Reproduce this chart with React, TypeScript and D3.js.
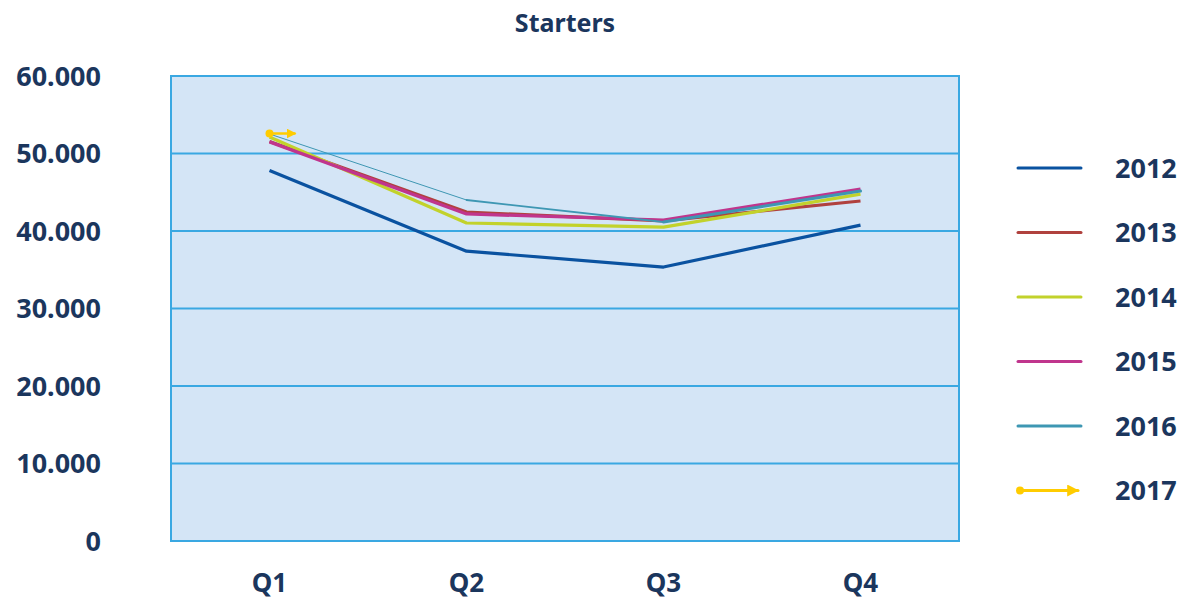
import * as d3 from "d3";

const quarters = ["Q1", "Q2", "Q3", "Q4"];
const years = ["2012", "2013", "2014", "2015", "2016", "2017"];

const v2012 = [47800, 37400, 35350, 40750];
const v2013 = [51550, 42450, 41300, 43870];
const v2014 = [52130, 41030, 40500, 44750];
const v2015 = [51500, 42200, 41420, 45420];
const v2016 = [52520, 44000, 41160, 45160];
const v2017 = [52580];

const yTicks = [0, 10000, 20000, 30000, 40000, 50000, 60000];

const seriesValues = [v2012, v2013, v2014, v2015, v2016, v2017];
const colors = ["#0a52a0", "#b0413e", "#c2d22b", "#c0358d", "#3e97b3", "#ffcc00"];
// 2016 fades in thin from Q1 and thickens toward Q4
const tealWidths = [1, 1.8, 3];

const NAVY = "#1b365d";
const FONT = "'Noto Sans', 'Open Sans', sans-serif";

export default function App() {
  const width = 1186;
  const height = 599;
  const plot = { left: 171, right: 959, top: 76, bottom: 541 };

  const x = d3.scaleBand().domain(quarters).range([plot.left, plot.right]).padding(0);
  const cx = (q: string) => (x(q) as number) + x.bandwidth() / 2;
  const y = d3.scaleLinear().domain([0, 60000]).range([plot.bottom, plot.top]);

  const line = d3
    .line<number>()
    .x((_, i) => cx(quarters[i]))
    .y((d) => y(d));

  const fmt = (v: number) => (v === 0 ? "0" : d3.format(",")(v).replace(/,/g, "."));

  const legendY = d3.scalePoint().domain(years).range([168, 490.5]);

  return (
    <div style={{ position: "absolute", left: 0, top: 0 }}>
      <svg width={width} height={height} style={{ display: "block", fontFamily: FONT }}>
        <defs>
          <marker id="arrow" viewBox="0 0 10 10" refX="9" refY="5" markerWidth="4" markerHeight="4" orient="auto">
            <path d="M0,0 L10,5 L0,10 z" fill={colors[5]} />
          </marker>
        </defs>
        <text x={565} y={32} textAnchor="middle" fontSize={25} fontWeight={700} fill={NAVY}>
          Starters
        </text>

        <rect
          x={plot.left}
          y={plot.top}
          width={plot.right - plot.left}
          height={plot.bottom - plot.top}
          fill="#d4e5f6"
          stroke="#3aa8e2"
          strokeWidth={2}
        />
        {yTicks.map((t) => (
          <g key={t}>
            <line x1={plot.left} x2={plot.right} y1={y(t)} y2={y(t)} stroke="#3aa8e2" strokeWidth={2} />
            <text x={101} y={y(t)} dy="0.36em" textAnchor="end" fontSize={27} fontWeight={700} fill={NAVY}>
              {fmt(t)}
            </text>
          </g>
        ))}
        {quarters.map((q) => (
          <text key={q} x={cx(q)} y={592} textAnchor="middle" fontSize={26} fontWeight={700} fill={NAVY}>
            {q}
          </text>
        ))}

        {seriesValues.slice(0, 4).map((vals, i) => (
          <path key={years[i]} d={line(vals) || ""} fill="none" stroke={colors[i]} strokeWidth={3.2} strokeLinejoin="round" />
        ))}
        {v2016.slice(1).map((v, i) => (
          <line
            key={"t" + i}
            x1={cx(quarters[i])}
            y1={y(v2016[i])}
            x2={cx(quarters[i + 1])}
            y2={y(v)}
            stroke={colors[4]}
            strokeWidth={tealWidths[i]}
            strokeLinecap="round"
          />
        ))}
        {v2017.map((v, i) => (
          <g key={"s" + i}>
            <line
              x1={cx(quarters[i])}
              y1={y(v)}
              x2={cx(quarters[i]) + 26}
              y2={y(v)}
              stroke={colors[5]}
              strokeWidth={2.5}
              markerEnd="url(#arrow)"
            />
            <circle cx={cx(quarters[i])} cy={y(v)} r={4} fill={colors[5]} />
          </g>
        ))}

        {years.map((yr, i) => {
          const ly = legendY(yr) as number;
          return (
            <g key={yr}>
              <line
                x1={1018}
                x2={yr === "2017" ? 1078 : 1081}
                y1={ly}
                y2={ly}
                stroke={colors[i]}
                strokeWidth={3}
                strokeLinecap="round"
                markerEnd={yr === "2017" ? "url(#arrow)" : undefined}
              />
              {yr === "2017" && <circle cx={1020} cy={ly} r={4} fill={colors[i]} />}
              <text x={1115} y={ly} dy="0.36em" fontSize={27} fontWeight={700} fill={NAVY}>
                {yr}
              </text>
            </g>
          );
        })}
      </svg>
    </div>
  );
}
